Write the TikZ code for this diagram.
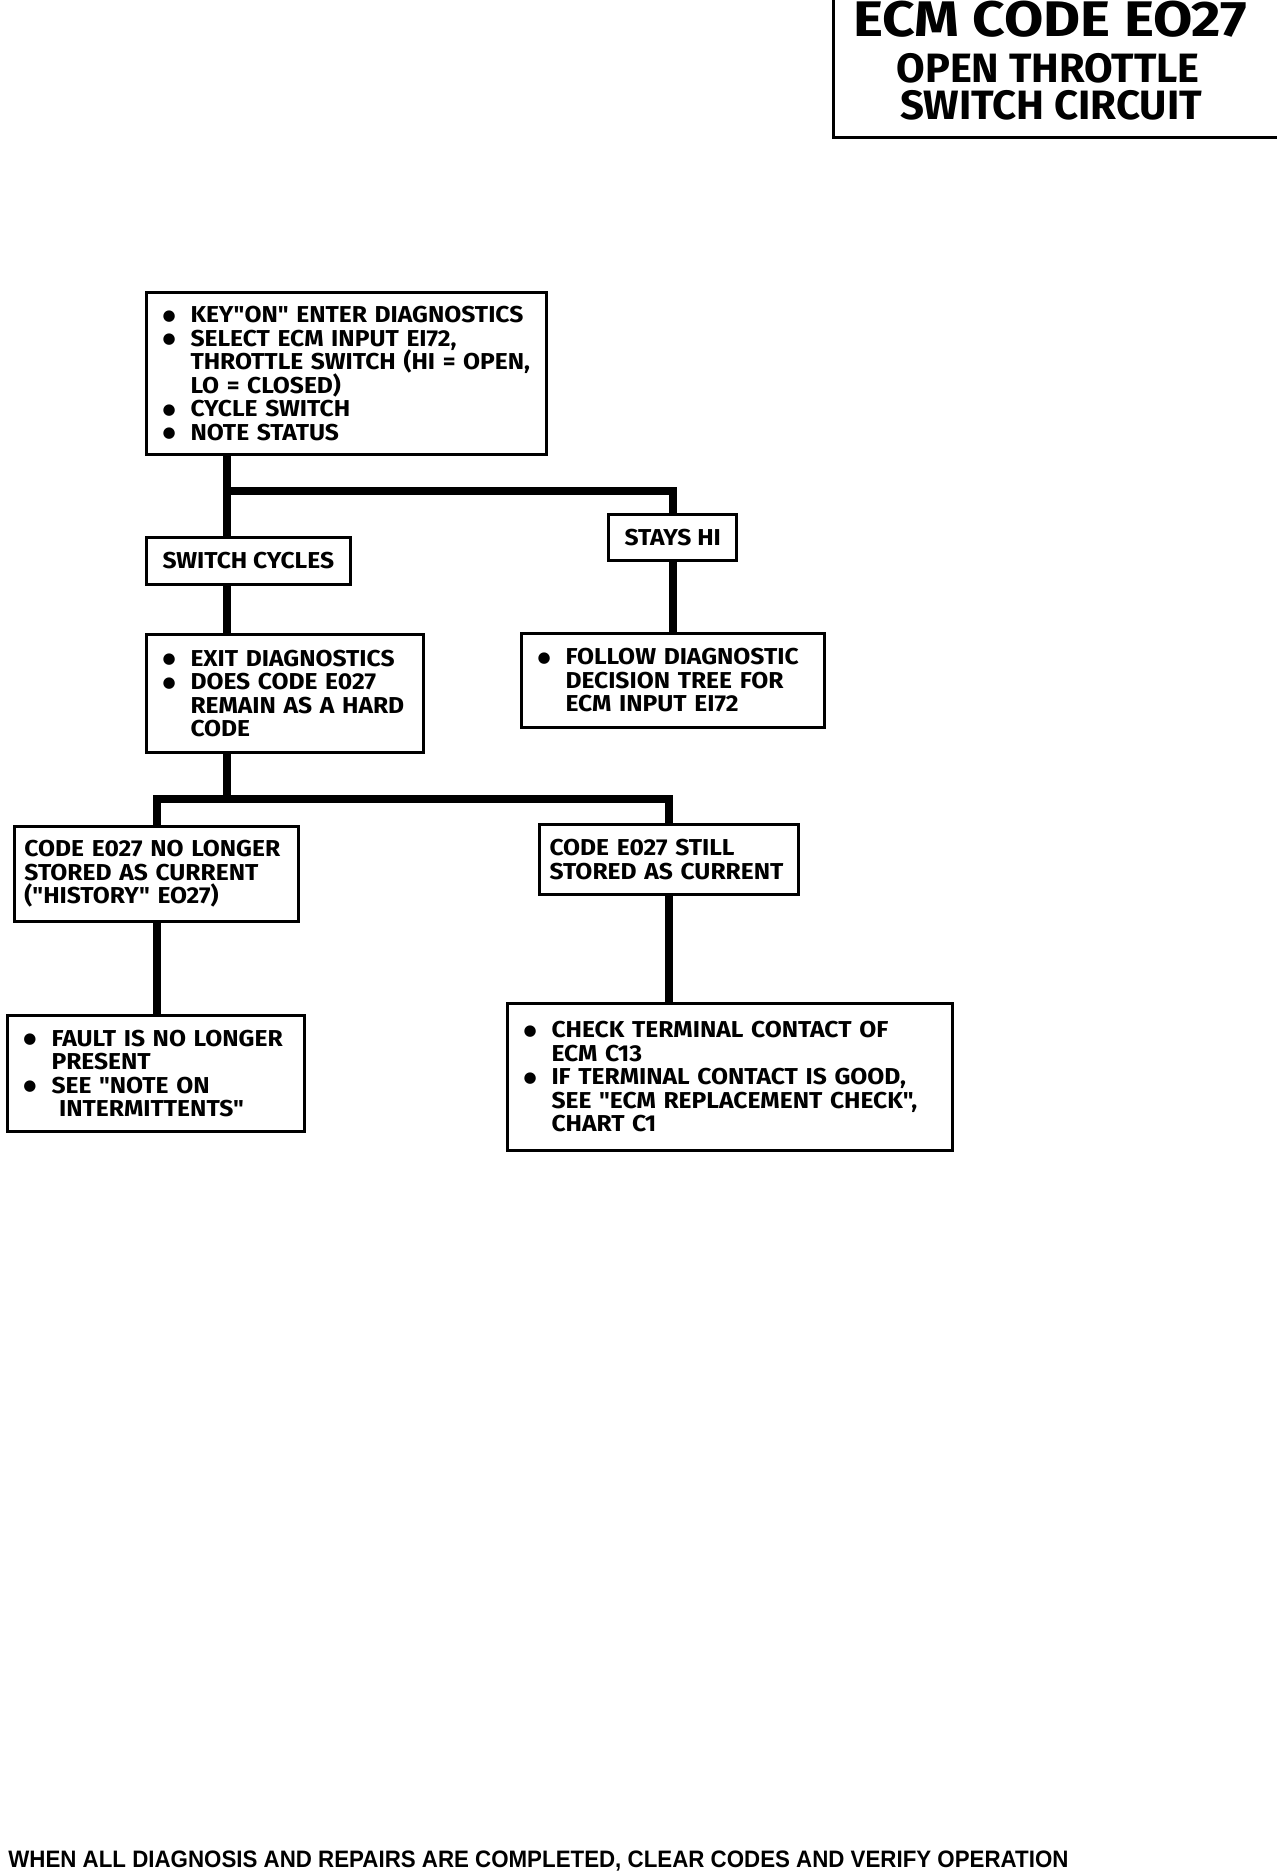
\documentclass[tikz,border=0pt]{standalone}
\usepackage{fontspec}
\usepackage{graphicx}
\newfontfamily\boxfont{Fira Sans}[FakeStretch=1.07]
\newfontfamily\headfont{Fira Sans}
\newfontfamily\notefont{Liberation Sans}
\newfontfamily\dotfont{DejaVu Sans}
\newcommand{\bul}{\makebox[14pt][l]{\raisebox{1.3pt}{\dotfont\fontsize{7.5}{7.5}\selectfont ●}}}
\newcommand{\ind}{\hspace*{14pt}}
\newcommand{\tightlines}{\lineskiplimit=-20pt\relax}

\begin{document}
\begin{tikzpicture}[x=0.5pt, y=-0.5pt,
  box/.style={draw, line width=1.5pt, anchor=north west, inner xsep=8pt, inner ysep=0pt,
    align=left, font=\boxfont\bfseries\fontsize{11.5}{11.75}\selectfont\tightlines},
  tag/.style={box, align=center},
  link/.style={line width=4pt}]
\path[use as bounding box, fill=white] (0,0) rectangle (1280,1872);

% heading
\draw[line width=1.5pt] (833,-2) -- (833,138) -- (1277,138);
\node[anchor=base, inner sep=0pt, font=\headfont\bfseries\fontsize{25}{25}\selectfont] (head1) at (1050,37) {\resizebox{197pt}{\height}{ECM CODE EO27}};
\node[anchor=base, inner sep=0pt, font=\headfont\bfseries\fontsize{20.5}{20.5}\selectfont] (head2) at (1048,83) {\resizebox{151.5pt}{\height}{OPEN THROTTLE}};
\node[anchor=base, inner sep=0pt, font=\headfont\bfseries\fontsize{20.5}{20.5}\selectfont] (head3) at (1051,120) {\resizebox{151pt}{\height}{SWITCH CIRCUIT}};

% boxes
\node[box, text width=184pt, minimum height=81pt] (start) at (145,291)
  {\bul KEY"ON" ENTER DIAGNOSTICS\\ \bul SELECT ECM INPUT EI72,\\ \ind THROTTLE SWITCH (HI = OPEN,\\
   \ind LO = CLOSED)\\ \bul CYCLE SWITCH\\ \bul NOTE STATUS};
\node[tag, minimum width=99pt, minimum height=23.5pt] (cycles) at (145,536) {SWITCH CYCLES};
\node[tag, minimum width=63pt, minimum height=23pt] (hi) at (607,513) {STAYS HI};
\node[box, text width=122.5pt, minimum height=59pt] (exit) at (145,633)
  {\bul EXIT DIAGNOSTICS\\ \bul DOES CODE E027\\ \ind REMAIN AS A HARD\\ \ind CODE};
\node[box, text width=135.5pt, minimum height=47pt] (follow) at (520,632)
  {\bul FOLLOW DIAGNOSTIC\\ \ind DECISION TREE FOR\\ \ind ECM INPUT EI72};
\node[box, inner xsep=5pt, text width=132pt, minimum height=47.5pt] (history) at (13,825)
  {CODE E027 NO LONGER\\ STORED AS CURRENT\\ ("HISTORY" EO27)};
\node[box, inner xsep=5pt, text width=119.5pt, minimum height=35pt] (still) at (538,823)
  {CODE E027 STILL\\ STORED AS CURRENT};
\node[box, text width=132.5pt, minimum height=58pt] (fault) at (6,1014)
  {\bul FAULT IS NO LONGER\\ \ind PRESENT\\ \bul SEE "NOTE ON\\ \ind\ INTERMITTENTS"};
\node[box, text width=206.5pt, minimum height=73.5pt] (check) at (506,1002)
  {\bul CHECK TERMINAL CONTACT OF\\ \ind ECM C13\\ \bul IF TERMINAL CONTACT IS GOOD,\\
   \ind SEE "ECM REPLACEMENT CHECK",\\ \ind CHART C1};

% connectors
\coordinate (fork1) at (227,491);
\coordinate (fork2) at (227,799);
\draw[link] (start.south -| fork1) -- (cycles.north -| fork1);
\draw[link] (fork1) -| (hi.north);
\draw[link] (cycles.south -| fork1) -- (exit.north -| fork1);
\draw[link] (hi.south) -- (hi.south |- follow.north);
\draw[link] (exit.south -| fork2) -- (fork2);
\draw[link] (history.north) |- (fork2) -| (still.north);
\draw[link] (history.south) -- (history.south |- fault.north);
\draw[link] (still.south) -- (still.south |- check.north);

\node[anchor=base west, inner sep=0pt, font=\notefont\bfseries\fontsize{11.9}{12}\selectfont] (note) at (8,1867)
  {\resizebox{530pt}{\height}{WHEN ALL DIAGNOSIS AND REPAIRS ARE COMPLETED, CLEAR CODES AND VERIFY OPERATION}};
\end{tikzpicture}
\end{document}
